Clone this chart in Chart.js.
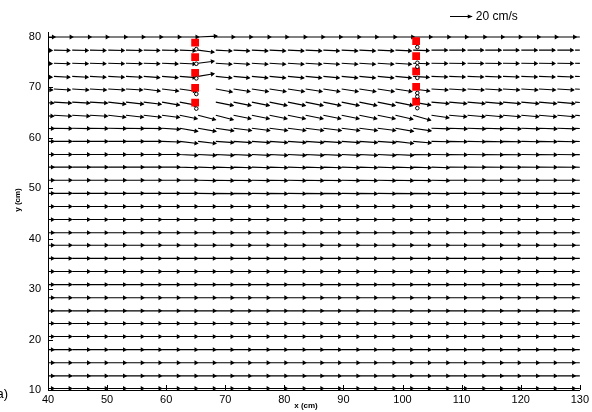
<!DOCTYPE html>
<html>
<head>
<meta charset="utf-8">
<script src="https://cdn.jsdelivr.net/npm/chart.js@4.4.0/dist/chart.umd.min.js"></script>
<style>
  html, body { margin: 0; padding: 0; background: #fff; }
  #wrap { width: 592px; height: 412px; position: relative; }
</style>
</head>
<body>
<div id="wrap"><canvas id="quiverChart"></canvas></div>
<script>
// measurement grid (cm): arrow tails
const colX = [38.0, 41.0, 44.1, 47.1, 50.2, 53.2, 56.2, 59.3, 62.3, 65.4,
              68.4, 71.4, 74.5, 77.5, 80.6, 83.6, 86.6, 89.7, 92.7, 95.8,
              98.8, 101.8, 104.9, 107.9, 111.0, 114.0, 117.0, 120.1, 123.1, 126.2, 129.2];
const rowY = [80.0, 77.4, 74.8, 72.2, 69.7, 67.1, 64.5, 61.9, 59.3, 56.7,
              54.2, 51.6, 49.0, 46.4, 43.8, 41.2, 38.7, 36.1, 33.5, 30.9,
              28.3, 25.7, 23.2, 20.6, 18.0, 15.4, 12.8, 10.3];

// streamwise velocity per row (cm/s)
const rowU = [17.5, 14.5, 14.5, 14.5, 15, 16, 16, 16.5, 16.5, 16.5,
              16.5, 16.5, 16.5, 16.5, 16.5, 16.5, 16.5, 16.5, 16.5, 16.5,
              16.5, 16.5, 16.5, 16.5, 16.5, 16.5, 16.5, 16.5];

// vertical velocity (cm/s) for the upper rows, null = no vector (wake behind the post)
// rows further down are flat
const rowV = [
  [0,0,0,0,0,0,0,0,0,1.0,  0,0,0,0,0,0,0,0,0,0,  0,0,0,0,0,0,0,0,0,0,0],
  [-0.4,-0.4,-0.4,-0.4,-0.4,-0.4,-0.4,-0.4,-0.6,-2.2,  -0.9,-0.8,-0.8,-0.8,-0.8,-0.8,-0.8,-0.8,-0.8,-0.8,  -0.8,-0.5,0,0,0,0,0,0,0,0,0],
  [-0.5,-0.5,-0.5,-0.5,-0.5,-0.5,-0.6,-0.7,-0.8,2.2,  -1.1,-1.1,-1.1,-1.1,-1.1,-1.1,-1.1,-1.1,-1.1,-1.1,  -1.1,-0.6,-0.3,-0.3,-0.3,-0.3,-0.3,-0.3,-0.3,-0.3,-0.3],
  [-0.9,-0.9,-0.9,-0.9,-0.9,-0.9,-1.3,-1.3,-1.4,2.8,  -1.7,-1.6,-1.6,-1.6,-1.6,-1.6,-1.6,-1.6,-1.6,-1.6,  -1.6,-1.1,-0.6,-0.6,-0.6,-0.6,-0.6,-0.6,-0.6,-0.6,-0.6],
  [-1.1,-1.1,-1.1,-1.1,-1.1,-1.1,-2.2,-2.2,-2.4,null,  -3.3,-2.8,-2.8,-2.8,-2.8,-2.8,-2.8,-2.8,-2.8,-2.8,  -2.8,-2.2,-1.1,-1.1,-1.1,-1.1,-1.1,-1.1,-1.1,-1.1,-1.1],
  [-1.1,-1.1,-1.1,-1.1,-2.2,-2.2,-2.4,-3.3,-3.5,null,  -3.8,-3.8,-3.8,-3.8,-3.8,-3.8,-3.8,-3.8,-3.8,-3.8,  -3.8,-3.3,-1.7,-1.7,-1.7,-1.7,-1.7,-1.7,-1.7,-1.7,-1.7],
  [-1.1,-1.1,-1.1,-1.1,-2.2,-2.2,-2.2,-2.4,-3.8,-5.0,  -5.0,-3.8,-3.8,-3.8,-3.8,-3.8,-3.8,-3.8,-3.8,-3.8,  -4.4,-5.5,-2.8,-1.7,-1.7,-1.7,-1.7,-1.7,-1.7,-1.7,-1.7],
  [-0.3,-0.3,-0.3,-0.3,-0.3,-0.3,-0.3,-1.1,-3.3,-3.3,  -2.8,-2.4,-2.4,-2.4,-2.4,-2.4,-2.4,-2.4,-2.4,-2.4,  -3.3,-2.8,-0.6,-0.6,-0.6,-0.6,-0.6,-0.6,-0.6,-0.6,-0.6],
  [0,0,0,0,0,0,0,-0.6,-2.2,-2.2,  -1.3,-1.3,-1.3,-1.3,-1.3,-1.3,-1.3,-1.3,-1.3,-1.3,  -2.2,-1.7,-0.3,-0.3,-0.3,-0.3,-0.3,-0.3,-0.3,-0.3,-0.3],
  [0,0,0,0,0,0,0,0,-0.9,-0.9,  -0.9,-0.9,-0.9,-0.9,-0.9,-0.9,-0.9,-0.9,-0.9,-0.9,  -0.9,-0.3,-0.3,-0.3,-0.3,-0.3,-0.3,-0.3,-0.3,-0.3,-0.3],
  [0,0,0,0,0,0,0,0,-0.7,-0.7,  -0.7,-0.7,-0.7,-0.7,-0.7,-0.7,-0.7,-0.7,-0.7,-0.7,  -0.7,-0.7,-0.7,-0.2,-0.2,-0.2,-0.2,-0.2,-0.2,-0.2,-0.2],
  [0,0,0,0,0,0,0,0,0,-0.4,  -0.4,-0.4,-0.4,-0.4,-0.4,-0.4,-0.4,-0.4,-0.4,-0.4,  -0.4,-0.4,-0.4,0,0,0,0,0,0,0,0],
  [0,0,0,0,0,0,0,0,0,-0.3,  -0.3,-0.3,-0.3,-0.3,-0.3,-0.3,-0.3,-0.3,-0.3,-0.3,  -0.3,-0.3,-0.3,0,0,0,0,0,0,0,0]
];

// posts (red squares) and probe points (circles)
const leftSquaresY = [78.9, 76.0, 72.9, 69.9, 67.0];
const leftCirclesY = [77.6, 74.7, 71.8, 68.7, 65.8];
const rightSquaresY = [79.2, 76.2, 73.2, 70.1, 67.2];
const rightCirclesY = [78.0, 74.9, 74.1, 71.9, 68.9, 68.2, 65.9];
const leftPostX = 64.9, rightPostX = 102.3;

const xTicks = [40, 50, 60, 70, 80, 90, 100, 110, 120, 130];
const yTicks = [10, 20, 30, 40, 50, 60, 70, 80];

const refSpeed = 20;     // cm/s, scale arrow
const arrowScale = 0.184; // cm of arrow per cm/s

const shaftPts = [];
const headPts = [];
rowY.forEach((yy, r) => {
    colX.forEach((xx, c) => {
        const v = r < rowV.length ? rowV[r][c] : 0;
        if (v === null) return;
        const u = rowU[r];
        const x1 = xx + u * arrowScale, y1 = yy + v * arrowScale;
        shaftPts.push({x: xx, y: yy}, {x: x1, y: y1}, {x: x1, y: null});
        headPts.push({x: xx + 0.9 * u * arrowScale, y: yy + 0.9 * v * arrowScale, x0: xx, y0: yy});
    });
});

const squarePts = leftSquaresY.map(y => ({x: leftPostX, y}))
    .concat(rightSquaresY.map(y => ({x: rightPostX, y})));
const circlePts = leftCirclesY.map(y => ({x: leftPostX + 0.2, y}))
    .concat(rightCirclesY.map(y => ({x: rightPostX + 0.2, y})));

const FONT = "'Liberation Sans', Arial, sans-serif";

// inward ticks, axis titles, scale arrow
const decor = {
    id: 'decor',
    afterDraw(chart) {
        const {ctx, chartArea: a, scales: {x, y}} = chart;
        ctx.save();
        ctx.strokeStyle = '#000';
        ctx.lineWidth = 1;
        ctx.beginPath();
        xTicks.forEach(t => {
            const p = Math.round(x.getPixelForValue(t)) + 0.5;
            ctx.moveTo(p, a.bottom);
            ctx.lineTo(p, a.bottom - 5);
        });
        yTicks.forEach(t => {
            const p = Math.round(y.getPixelForValue(t)) + 0.5;
            ctx.moveTo(a.left, p);
            ctx.lineTo(a.left + 5, p);
        });
        ctx.stroke();

        ctx.fillStyle = '#000';
        ctx.font = 'bold 8px ' + FONT;
        ctx.textAlign = 'center';
        ctx.textBaseline = 'middle';
        ctx.fillText('x (cm)', 306, 406);
        ctx.save();
        ctx.translate(18, 200);
        ctx.rotate(-Math.PI / 2);
        ctx.fillText('y (cm)', 0, 0);
        ctx.restore();

        ctx.font = '13px ' + FONT;
        ctx.textAlign = 'right';
        ctx.fillText('a)', 8, 394);

        // 20 cm/s reference arrow
        const len = x.getPixelForValue(x.min + refSpeed * arrowScale) - x.getPixelForValue(x.min);
        const x0 = 450, y0 = 16.5;
        ctx.beginPath();
        ctx.moveTo(x0, y0);
        ctx.lineTo(x0 + len, y0);
        ctx.stroke();
        ctx.beginPath();
        ctx.moveTo(x0 + len + 1, y0);
        ctx.lineTo(x0 + len - 4, y0 - 2);
        ctx.lineTo(x0 + len - 4, y0 + 2);
        ctx.closePath();
        ctx.fill();
        ctx.font = '12px ' + FONT;
        ctx.textAlign = 'left';
        ctx.fillText(refSpeed + ' cm/s', x0 + len + 4, y0);
        ctx.restore();
    }
};

const chart = new Chart(document.getElementById('quiverChart'), {
    type: 'scatter',
    data: {
        datasets: [
            {
                label: 'probes',
                data: circlePts,
                pointStyle: 'circle',
                pointRadius: 1.8,
                pointBackgroundColor: '#fff',
                pointBorderColor: '#000',
                pointBorderWidth: 1,
                order: 1
            },
            {
                label: 'posts',
                data: squarePts,
                pointStyle: 'rect',
                pointRadius: 5.5,
                pointBackgroundColor: '#ff0000',
                pointBorderWidth: 0,
                order: 2
            },
            {
                label: 'heads',
                data: headPts,
                pointStyle: 'triangle',
                pointRadius: 2.8,
                pointBackgroundColor: '#000',
                pointBorderWidth: 0,
                clip: 0,
                pointRotation: ctx => {
                    const p = ctx.raw;
                    if (!p) return 90;
                    const sx = ctx.chart.scales.x, sy = ctx.chart.scales.y;
                    const dx = sx.getPixelForValue(p.x) - sx.getPixelForValue(p.x0);
                    const dy = sy.getPixelForValue(p.y) - sy.getPixelForValue(p.y0);
                    return 90 + Math.atan2(dy, dx) * 180 / Math.PI;
                },
                order: 3
            },
            {
                label: 'velocity',
                data: shaftPts,
                showLine: true,
                spanGaps: false,
                borderColor: '#000',
                borderWidth: 1.1,
                pointRadius: 0,
                clip: 0,
                order: 4
            }
        ]
    },
    options: {
        responsive: true,
        maintainAspectRatio: false,
        animation: false,
        events: [],
        layout: { padding: { left: 0, top: 32, right: 12, bottom: 0 } },
        plugins: { legend: { display: false }, tooltip: { enabled: false } },
        scales: {
            x: {
                type: 'linear',
                min: 40,
                max: 130,
                afterFit: s => { s.height = 22; },
                afterBuildTicks: s => { s.ticks = xTicks.map(v => ({value: v})); },
                grid: { display: false, drawTicks: false },
                border: { display: true, color: '#000', width: 1 },
                ticks: { padding: 3, color: '#000', font: { family: FONT, size: 11 }, maxRotation: 0, autoSkip: false }
            },
            y: {
                type: 'linear',
                min: 10,
                max: 81,
                afterFit: s => { s.width = 48; },
                afterBuildTicks: s => { s.ticks = yTicks.map(v => ({value: v})); },
                grid: { display: false, drawTicks: false },
                border: { display: true, color: '#000', width: 1 },
                ticks: { padding: 7, color: '#000', font: { family: FONT, size: 11 }, autoSkip: false }
            }
        }
    },
    plugins: [decor]
});
</script>
</body>
</html>
